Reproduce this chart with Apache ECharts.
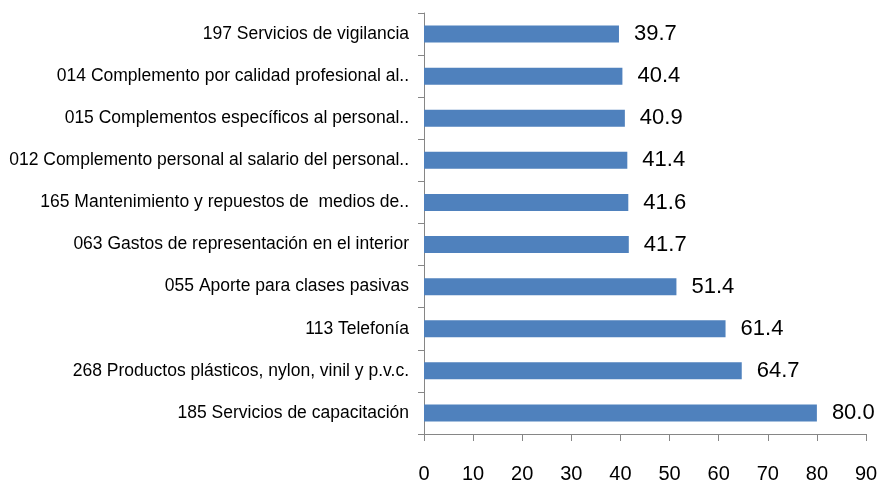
<!DOCTYPE html>
<html><head><meta charset="utf-8">
<script src="https://cdn.jsdelivr.net/npm/echarts@6/dist/echarts.min.js"></script>
<style>html,body{margin:0;padding:0;background:#fff}#c{width:881px;height:485px}</style>
</head><body><div id="c"></div>
<script>
const categories = [
  "197 Servicios de vigilancia",
  "014 Complemento por calidad profesional al..",
  "015 Complementos específicos al personal..",
  "012 Complemento personal al salario del personal..",
  "165 Mantenimiento y repuestos de  medios de..",
  "063 Gastos de representación en el interior",
  "055 Aporte para clases pasivas",
  "113 Telefonía",
  "268 Productos plásticos, nylon, vinil y p.v.c.",
  "185 Servicios de capacitación"
];
const values = [39.7, 40.4, 40.9, 41.4, 41.6, 41.7, 51.4, 61.4, 64.7, 80.0];
const xTicks = [0, 10, 20, 30, 40, 50, 60, 70, 80, 90];

const FONT = "'Liberation Sans Narrow', 'Arial Narrow', 'Liberation Sans', sans-serif";
const chart = echarts.init(document.getElementById('c'));
chart.setOption({
  animation: false,
  grid: { left: 424, right: 15, top: 13, bottom: 51, containLabel: false },
  xAxis: {
    type: 'value', min: xTicks[0], max: xTicks[xTicks.length - 1], interval: 10,
    axisLine: { show: true, lineStyle: { color: '#868686', width: 1 } },
    axisTick: { show: true, inside: false, length: 7, lineStyle: { color: '#868686' } },
    axisLabel: { color: '#000', fontSize: 20, fontFamily: FONT, margin: 30 },
    splitLine: { show: false }
  },
  yAxis: {
    type: 'category', data: categories, inverse: true,
    axisLine: { show: true, lineStyle: { color: '#868686', width: 1 } },
    axisTick: { show: true, length: 6, alignWithLabel: false, lineStyle: { color: '#868686' } },
    axisLabel: { color: '#000', fontSize: 17.5, fontFamily: FONT, margin: 15 }
  },
  series: [{
    type: 'bar', data: values, barWidth: 17,
    itemStyle: { color: '#4F81BD' },
    label: { show: true, position: 'right', distance: 15, color: '#000', fontSize: 22, fontFamily: FONT,
      formatter: p => p.value.toFixed(1) }
  }]
});
</script></body></html>
